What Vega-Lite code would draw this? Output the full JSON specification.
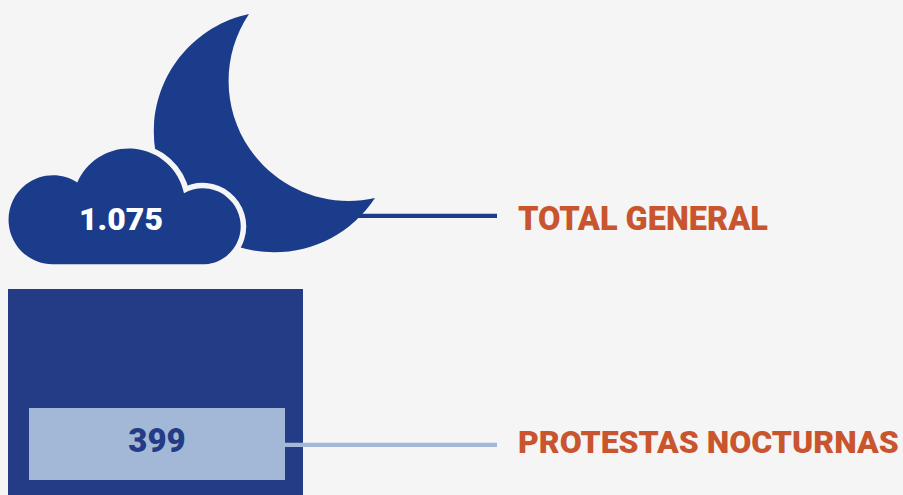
{
"$schema":"https://vega.github.io/schema/vega-lite/v6.json",
"width":903,"height":495,
"autosize":{"type":"none"},
"padding":0,
"background":"#f5f5f5",
"config":{"view":{"stroke":null},"locale":{"number":{"decimal":",","thousands":".","grouping":[3],"currency":["","€"]}}},
"data":{"values":[{"label":"TOTAL GENERAL","value":1075},{"label":"PROTESTAS NOCTURNAS","value":399}]},
"layer":[
{"transform":[{"filter":"datum.value==1075"}],"mark":{"type":"rule","color":"#1b3b8b","strokeWidth":4.3},
 "encoding":{"x":{"datum":350,"scale":{"domain":[0,903]},"axis":null},"x2":{"datum":497},"y":{"datum":215.8,"scale":{"domain":[495,0]},"axis":null}}},
{"transform":[{"filter":"datum.value==1075"}],"mark":{"type":"point","filled":true,"opacity":1,"color":"#1b3b8b","shape":"M-15,-118 A120.5,120.5 0 1 0 111,66 A120,120 0 0 1 -15,-118 Z"},
 "encoding":{"x":{"datum":264,"scale":{"domain":[0,903]},"axis":null},"y":{"datum":132,"scale":{"domain":[495,0]},"axis":null},"size":{"value":4}}},
{"transform":[{"filter":"datum.value==1075"}],"mark":{"type":"point","filled":true,"opacity":1,"fill":"#f5f5f5","stroke":"#f5f5f5","strokeWidth":11,"shape":"M-72.5,57.3 A44.5,44.5 0 1 1 -47.7,-24.5 A56.2,56.2 0 0 1 59,-13.7 A38,38 0 1 1 80,57.3 Z"},
 "encoding":{"x":{"datum":125,"scale":{"domain":[0,903]},"axis":null},"y":{"datum":207,"scale":{"domain":[495,0]},"axis":null},"size":{"value":4}}},
{"transform":[{"filter":"datum.value==1075"}],"mark":{"type":"point","filled":true,"opacity":1,"color":"#1b3b8b","shape":"M-72.5,57.3 A44.5,44.5 0 1 1 -47.7,-24.5 A56.2,56.2 0 0 1 59,-13.7 A38,38 0 1 1 80,57.3 Z"},
 "encoding":{"x":{"datum":125,"scale":{"domain":[0,903]},"axis":null},"y":{"datum":207,"scale":{"domain":[495,0]},"axis":null},"size":{"value":4}}},
{"transform":[{"filter":"datum.value==1075"}],"mark":{"type":"rect","color":"#243c85"},
 "encoding":{"x":{"datum":8,"scale":{"domain":[0,903]},"axis":null},"x2":{"datum":303},"y":{"datum":289,"scale":{"domain":[495,0]},"axis":null},"y2":{"datum":495}}},
{"transform":[{"filter":"datum.value==399"}],"mark":{"type":"rect","color":"#a2b8d6"},
 "encoding":{"x":{"datum":29,"scale":{"domain":[0,903]},"axis":null},"x2":{"datum":285},"y":{"datum":408,"scale":{"domain":[495,0]},"axis":null},"y2":{"datum":480}}},
{"transform":[{"filter":"datum.value==399"}],"mark":{"type":"rule","color":"#a2b8d6","strokeWidth":4.3},
 "encoding":{"x":{"datum":285,"scale":{"domain":[0,903]},"axis":null},"x2":{"datum":497},"y":{"datum":444.8,"scale":{"domain":[495,0]},"axis":null}}},
{"transform":[{"filter":"datum.value==1075"}],"mark":{"type":"text","font":"Roboto","fontWeight":900,"fontSize":32,"color":"#ffffff","align":"center","baseline":"alphabetic"},
 "encoding":{"x":{"datum":121,"scale":{"domain":[0,903]},"axis":null},"y":{"datum":230.3,"scale":{"domain":[495,0]},"axis":null},"text":{"field":"value","type":"quantitative","format":",d"}}},
{"transform":[{"filter":"datum.value==399"}],"mark":{"type":"text","font":"Roboto","fontWeight":900,"fontSize":33,"color":"#243c85","align":"center","baseline":"alphabetic"},
 "encoding":{"x":{"datum":157,"scale":{"domain":[0,903]},"axis":null},"y":{"datum":451.5,"scale":{"domain":[495,0]},"axis":null},"text":{"field":"value","type":"quantitative","format":",d"}}},
{"transform":[{"filter":"datum.value==1075"}],"mark":{"type":"text","font":"Roboto","fontWeight":900,"fontSize":32.5,"color":"#c9552f","align":"left","baseline":"alphabetic"},
 "encoding":{"x":{"datum":518,"scale":{"domain":[0,903]},"axis":null},"y":{"datum":230.3,"scale":{"domain":[495,0]},"axis":null},"text":{"field":"label","type":"nominal"}}},
{"transform":[{"filter":"datum.value==399"}],"mark":{"type":"text","font":"Roboto","fontWeight":900,"fontSize":32,"color":"#c9552f","align":"left","baseline":"alphabetic"},
 "encoding":{"x":{"datum":518,"scale":{"domain":[0,903]},"axis":null},"y":{"datum":452.8,"scale":{"domain":[495,0]},"axis":null},"text":{"field":"label","type":"nominal"}}}
]
}
